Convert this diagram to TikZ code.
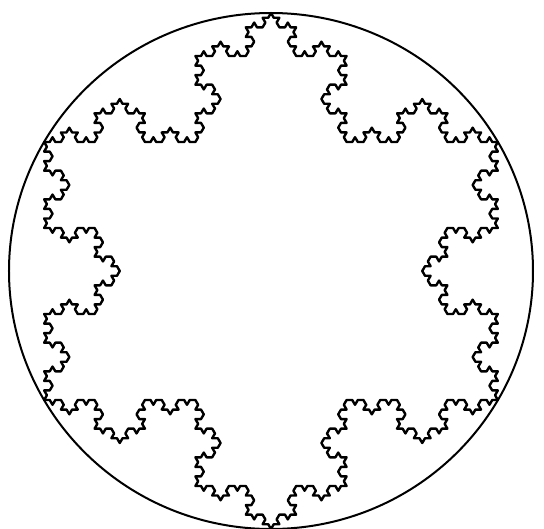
\documentclass[tikz,border=0pt]{standalone}
\usepackage{tikz}

% one side of the snowflake: level, x1, y1, x2, y2 (bump on the right of the direction)
\newcommand\kochseg[5]{%
  \ifnum#1=0
    \xdef\kochpath{\kochpath -- (#4,#5)}%
  \else
    \begingroup
    \pgfmathsetmacro\kax{#2+(#4-#2)/3}%
    \pgfmathsetmacro\kay{#3+(#5-#3)/3}%
    \pgfmathsetmacro\kbx{#2+2*(#4-#2)/3}%
    \pgfmathsetmacro\kby{#3+2*(#5-#3)/3}%
    \pgfmathsetmacro\kpx{(#2+#4)/2+(#5-#3)*0.288675}%
    \pgfmathsetmacro\kpy{(#3+#5)/2-(#4-#2)*0.288675}%
    \pgfmathtruncatemacro\klv{#1-1}%
    \edef\kochnext{%
      \noexpand\kochseg{\klv}{#2}{#3}{\kax}{\kay}%
      \noexpand\kochseg{\klv}{\kax}{\kay}{\kpx}{\kpy}%
      \noexpand\kochseg{\klv}{\kpx}{\kpy}{\kbx}{\kby}%
      \noexpand\kochseg{\klv}{\kbx}{\kby}{#4}{#5}}%
    \kochnext
    \endgroup
  \fi}

\begin{document}
\begin{tikzpicture}[x=1pt, y=1pt, line join=round]
  % page frame
  \useasboundingbox (-271,-257) rectangle (273,271);
  % outer circle
  \draw[line width=2pt] (0,0) ellipse [x radius=262, y radius=258];
  % snowflake, order 4, base triangle run counter-clockwise
  \gdef\kochpath{(-223.4,-129)}
  \kochseg{4}{-223.4}{-129}{223.4}{-129}
  \kochseg{4}{223.4}{-129}{0}{258}
  \kochseg{4}{0}{258}{-223.4}{-129}
  \begin{scope}[xscale=1.0155]
    \draw[line width=2.4pt] \kochpath -- cycle;
  \end{scope}
\end{tikzpicture}
\end{document}
